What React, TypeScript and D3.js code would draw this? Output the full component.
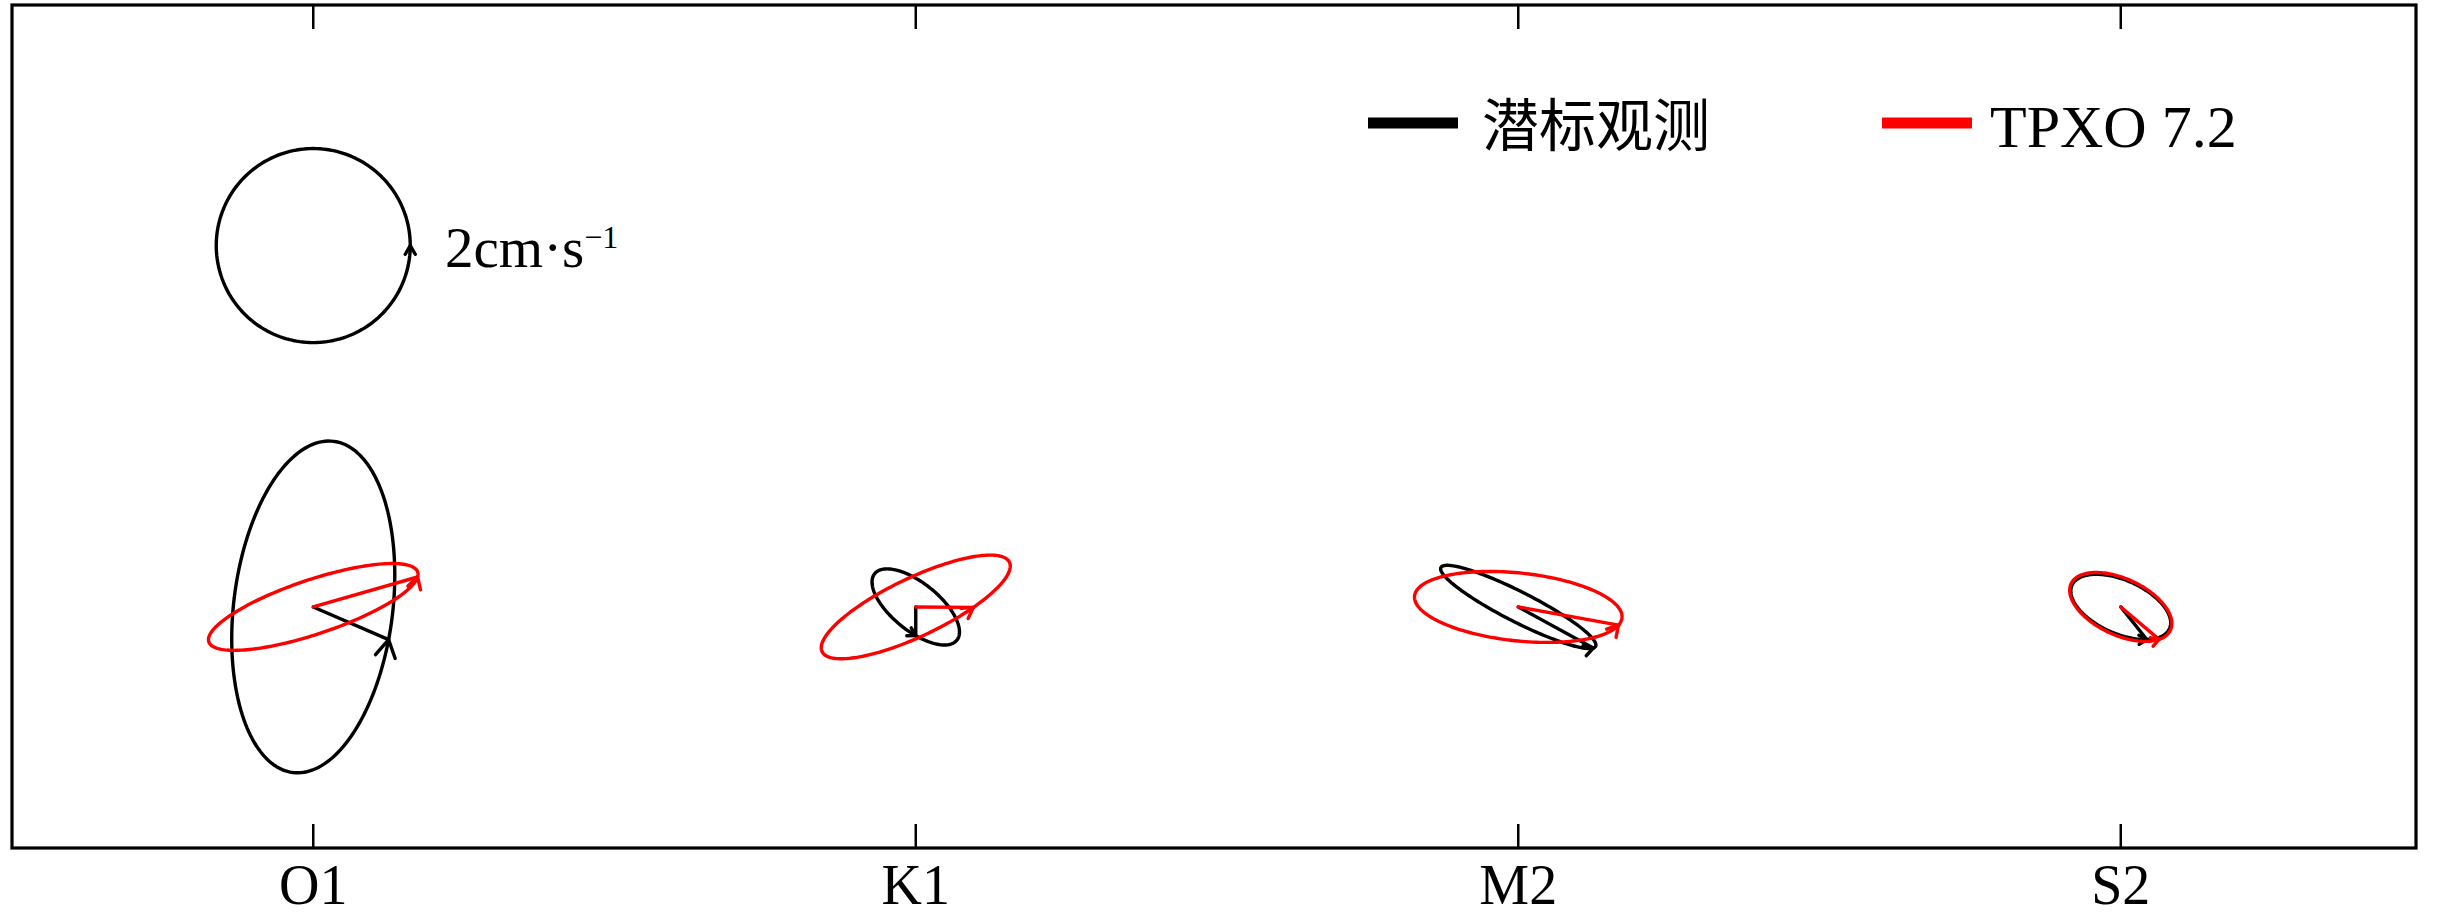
import React from "react";
import * as d3 from "d3";

// Tidal constituents (x-axis categories)
const constituents = ["O1", "K1", "M2", "S2"];

// 潜标观测 (observed) tidal current ellipses, cm/s and degrees
const obsMajor = [3.44, 1.09, 1.79, 1.1];
const obsMinor = [1.64, 0.49, 0.31, 0.55];
const obsIncl = [83, 141, 153, 156];
const obsPhase = [262, 110, 170, 134];

// TPXO 7.2 model tidal current ellipses
const tpxMajor = [2.27, 2.14, 2.15, 1.13];
const tpxMinor = [0.56, 0.6, 0.7, 0.58];
const tpxIncl = [18.5, 25.5, 174, 155];
const tpxPhase = [350, 300, 167, 152];

// Reference scale circle
const scaleRadius = 2; // cm/s
const scaleYValue = 7.45;
const scaleLabel = "2cm·s";
const scaleSup = "−1";

const legendLabels = ["潜标观测", "TPXO 7.2"];
const legendColors = ["#000000", "#ff0000"];

const W = 2438;
const H = 924;
const left = 12;
const right = 2416;
const top = 5;
const bottom = 848;

const x = d3.scaleLinear().domain([0.5, 4.49]).range([left, right]);
const y = d3.scaleLinear().domain([-4.97, 12.41]).range([bottom, top]);
const k = y(0) - y(1); // px per cm/s (equal aspect)

const SERIF = "'Liberation Serif', 'Times New Roman', serif";
const CJK = "'Noto Sans CJK SC', 'Liberation Serif', serif";

type Ell = { cx: number; cy: number; a: number; b: number; inc: number; ph: number };

function ellPoint(e: Ell, t: number): [number, number] {
  const th = (e.inc * Math.PI) / 180;
  const xe = e.a * Math.cos(t);
  const ye = e.b * Math.sin(t);
  return [
    e.cx + k * (xe * Math.cos(th) - ye * Math.sin(th)),
    e.cy - k * (xe * Math.sin(th) + ye * Math.cos(th)),
  ];
}

function ellTangent(e: Ell, t: number): [number, number] {
  const th = (e.inc * Math.PI) / 180;
  const dx = -e.a * Math.sin(t);
  const dy = e.b * Math.cos(t);
  const sx = dx * Math.cos(th) - dy * Math.sin(th);
  const sy = -(dx * Math.sin(th) + dy * Math.cos(th));
  const n = Math.hypot(sx, sy) || 1;
  return [sx / n, sy / n];
}

const lineGen = d3.line<[number, number]>().curve(d3.curveLinearClosed);

function EllipseMark({ e, color, showLine = true, arm }: { e: Ell; color: string; showLine?: boolean; arm?: number }) {
  const ts = d3.range(0, 360, 2).map((d) => (d * Math.PI) / 180);
  const pts = ts.map((t) => ellPoint(e, t));
  const tp = (e.ph * Math.PI) / 180;
  const P = ellPoint(e, tp);
  const [dx, dy] = ellTangent(e, tp);
  const L = arm ?? Math.max(9, Math.min(20, e.a * k * 0.12));
  const ang = (30 * Math.PI) / 180;
  const rot = (vx: number, vy: number, a: number): [number, number] => [
    vx * Math.cos(a) - vy * Math.sin(a),
    vx * Math.sin(a) + vy * Math.cos(a),
  ];
  const r1 = rot(dx, dy, ang);
  const r2 = rot(dx, dy, -ang);
  const arrow = `M${P[0] - L * r1[0]},${P[1] - L * r1[1]}L${P[0]},${P[1]}L${P[0] - L * r2[0]},${P[1] - L * r2[1]}`;
  return (
    <g fill="none" stroke={color} strokeWidth={3.4} strokeLinejoin="round" strokeLinecap="round">
      <path d={lineGen(pts) || ""} />
      {showLine && <line x1={e.cx} y1={e.cy} x2={P[0]} y2={P[1]} />}
      <path d={arrow} />
    </g>
  );
}

export default function App() {
  const obs: Ell[] = constituents.map((_, i) => ({
    cx: x(i + 1), cy: y(0), a: obsMajor[i], b: obsMinor[i], inc: obsIncl[i], ph: obsPhase[i],
  }));
  const tpx: Ell[] = constituents.map((_, i) => ({
    cx: x(i + 1), cy: y(0), a: tpxMajor[i], b: tpxMinor[i], inc: tpxIncl[i], ph: tpxPhase[i],
  }));
  const scaleEll: Ell = { cx: x(1), cy: y(scaleYValue), a: scaleRadius, b: scaleRadius, inc: 0, ph: 0 };

  return (
    <svg width={W} height={H} style={{ position: "absolute", left: 0, top: 0, background: "#fff" }}>
      <rect x={0} y={0} width={W} height={H} fill="#fff" />
      {/* frame */}
      <rect x={left} y={top} width={right - left} height={bottom - top} fill="none" stroke="#000" strokeWidth={3.2} />
      {/* ticks and labels */}
      {constituents.map((c, i) => (
        <g key={c}>
          <line x1={x(i + 1)} x2={x(i + 1)} y1={bottom} y2={bottom - 24} stroke="#000" strokeWidth={2.5} />
          <line x1={x(i + 1)} x2={x(i + 1)} y1={top} y2={top + 24} stroke="#000" strokeWidth={2.5} />
          <text x={x(i + 1)} y={904} textAnchor="middle" fontFamily={SERIF} fontSize={56} fill="#000">
            {c}
          </text>
        </g>
      ))}
      {/* scale circle */}
      <EllipseMark e={scaleEll} color="#000" showLine={false} arm={10} />
      <text x={445} y={267} fontFamily={SERIF} fontSize={57} fill="#000">
        {scaleLabel}
        <tspan fontSize={32} dy={-19}>{scaleSup}</tspan>
      </text>
      {/* ellipses */}
      {obs.map((e, i) => (
        <EllipseMark key={"o" + i} e={e} color={legendColors[0]} />
      ))}
      {tpx.map((e, i) => (
        <EllipseMark key={"t" + i} e={e} color={legendColors[1]} />
      ))}
      {/* legend */}
      <line x1={1368} x2={1458} y1={123} y2={123} stroke={legendColors[0]} strokeWidth={11} />
      <text x={1482} y={146} fontFamily={CJK} fontSize={57} fill="#000">{legendLabels[0]}</text>
      <line x1={1882} x2={1972} y1={123} y2={123} stroke={legendColors[1]} strokeWidth={11} />
      <text x={1990} y={147} fontFamily={SERIF} fontSize={60} fill="#000">{legendLabels[1]}</text>
    </svg>
  );
}
